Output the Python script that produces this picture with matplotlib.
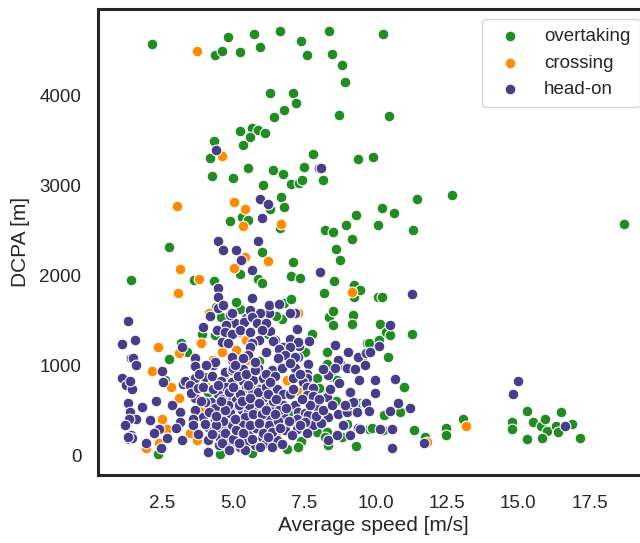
import matplotlib
import numpy as np

matplotlib.use("Agg")
import matplotlib.pyplot as plt

# (average speed [m/s], DCPA [m]) per encounter type
overtaking_points = [
    (2.15, 4570), (4.81, 4648), (4.34, 4448), (4.60, 4492), (5.22, 4481), (5.74, 4685),
    (5.93, 4537), (6.63, 4714), (7.36, 4600), (7.60, 4441), (8.36, 4718), (8.45, 4459),
    (8.82, 4333), (8.90, 4148), (6.30, 4026), (7.10, 4022), (7.20, 3911), (6.78, 3837),
    (6.42, 3755), (8.71, 3777), (5.24, 3603), (5.67, 3636), (5.86, 3618), (6.12, 3581),
    (5.60, 3533), (5.34, 3441), (4.32, 3496), (4.18, 3303), (4.25, 3103), (4.98, 3081),
    (5.50, 3192), (6.39, 3166), (6.73, 3119), (7.01, 3018), (7.29, 3022), (7.42, 3059),
    (7.49, 3203), (7.79, 3341), (8.13, 3052), (6.04, 3000), (6.66, 2874), (6.77, 2755),
    (6.29, 2733), (5.29, 2641), (5.53, 2611), (4.90, 2600), (6.64, 2522), (8.22, 2503),
    (8.51, 2481), (8.96, 2555), (9.30, 2674), (9.15, 2403), (9.39, 3296), (9.91, 3318),
    (2.76, 2308), (8.59, 2296),
    (10.26, 4681), (10.46, 3766), (11.46, 2841), (12.67, 2889), (10.20, 2744), (10.63, 2696),
    (10.06, 2555), (11.32, 2500), (18.70, 2563),
    (1.40, 1941), (6.01, 2252), (7.09, 2144), (8.73, 2174), (5.23, 2008), (5.85, 1952),
    (6.01, 1914), (7.04, 1989), (7.33, 1970), (4.33, 1930), (3.61, 1941), (8.53, 1933),
    (8.19, 1800), (9.22, 1889), (9.24, 1752), (6.78, 1692), (7.02, 1730), (8.36, 1537),
    (8.50, 1600), (9.20, 1559), (9.16, 1452), (8.49, 1441), (6.69, 1515), (2.76, 1070),
    (2.60, 830), (3.18, 1248), (7.75, 1341), (8.27, 1148), (8.28, 981), (8.47, 863),
    (7.92, 852), (9.69, 1241), (9.44, 574), (7.95, 259), (8.27, 252), (8.33, 111),
    (9.29, 103), (5.66, 25), (4.52, 15), (2.35, 10), (7.36, 152), (7.27, 92), (6.90, 70),
    (4.55, 1530), (3.38, 1148), (4.35, 1333), (5.23, 1619), (8.27, 1018), (8.77, 1000),
    (3.50, 833), (8.21, 204), (8.27, 685), (8.62, 833), (7.04, 833), (9.77, 296),
    (6.75, 370), (6.96, 370),
    (9.44, 1833), (10.08, 1752), (10.23, 1752), (10.16, 1456), (10.37, 1370), (10.51, 1333),
    (11.27, 1348), (9.77, 1241), (10.12, 1278), (10.41, 1092), (9.50, 1074), (10.98, 759),
    (10.29, 444), (10.84, 481), (9.85, 304), (10.26, 278), (11.34, 274), (11.72, 204),
    (12.46, 304), (12.46, 222), (13.06, 407), (14.78, 370), (14.78, 296), (15.29, 485),
    (15.29, 174), (15.51, 370), (15.81, 322), (15.95, 404), (15.99, 270), (15.82, 189),
    (16.33, 322), (16.40, 259), (16.49, 478), (16.89, 341), (17.15, 189),
    (4.40, 1650), (5.10, 1700), (6.20, 1350), (6.90, 1100), (5.90, 1050), (4.10, 700),
    (6.10, 300), (5.30, 250), (7.00, 450), (7.60, 600), (4.70, 900), (3.90, 1350),
    (6.50, 1550), (7.50, 1150), (8.00, 750), (8.60, 600), (9.00, 350), (8.80, 200),
]

crossing_points = [
    (3.71, 4492), (4.59, 3322), (3.03, 2763), (5.01, 2811), (5.42, 2730), (5.33, 2544),
    (6.67, 2566), (3.12, 2063), (3.06, 1807), (5.02, 2085), (6.20, 2152), (5.40, 2203),
    (3.78, 1955), (9.18, 1815), (2.35, 1203), (3.86, 1241), (2.15, 933), (2.82, 755),
    (3.10, 630), (2.49, 400), (2.40, 130), (1.95, 74), (7.63, 1000), (4.15, 1585),
    (4.59, 1148), (4.29, 1055), (3.11, 1137), (7.27, 1574), (5.23, 1370), (5.11, 1167),
    (6.16, 1481), (5.52, 1055), (2.66, 289), (4.00, 585), (3.71, 167), (5.29, 833),
    (6.84, 822), (6.40, 648), (6.30, 426), (6.52, 481), (7.33, 704), (6.52, 259),
    (13.15, 326), (11.78, 141), (5.46, 1278), (4.06, 759), (3.94, 500), (3.47, 241),
    (6.46, 685), (6.87, 833), (7.57, 704), (4.50, 450), (5.00, 300), (5.80, 200),
    (4.80, 650), (5.60, 900), (6.10, 1150),
]

head_on_points = [
    (4.40, 3392), (7.99, 3192), (8.09, 3192), (5.94, 2848), (6.23, 2796), (6.02, 2630),
    (4.47, 2385), (5.85, 2385), (4.64, 2278), (5.09, 2278), (5.26, 2174), (5.66, 2055),
    (8.05, 2033),
    (1.32, 1492), (1.09, 1230), (1.54, 1285), (1.40, 1085), (1.48, 1081), (1.59, 1007),
    (1.09, 855), (1.23, 778), (1.44, 733), (1.37, 822), (1.30, 574), (1.36, 481),
    (1.78, 537), (1.25, 333), (1.40, 222), (1.33, 178), (1.43, 192), (1.31, 204),
    (1.60, 407), (1.33, 407), (1.19, 333), (2.08, 378), (1.93, 130), (2.49, 74),
    (2.70, 196), (2.40, 296), (3.12, 474), (3.12, 370), (3.20, 167), (4.12, 30),
    (2.51, 933), (3.24, 796), (3.65, 1081), (3.65, 989), (3.20, 1203), (4.46, 1859),
    (4.46, 1752), (4.46, 1630), (4.64, 1667), (4.18, 1544), (3.95, 1419), (4.41, 1396),
    (4.94, 1567), (5.05, 1463), (4.70, 1433), (5.46, 1519), (5.62, 1544), (5.95, 1492),
    (6.26, 1574), (6.25, 1667), (6.60, 1674), (6.28, 1381), (6.46, 1278), (6.77, 1196),
    (6.99, 1292), (7.30, 1211), (7.65, 1267), (7.16, 1585), (7.25, 1407),
    (4.88, 1559), (4.73, 1444), (4.43, 1389), (4.70, 1370), (4.94, 1344), (4.61, 1259),
    (4.80, 1241), (4.29, 1000), (4.35, 1037), (4.70, 926), (4.94, 944), (4.94, 1055),
    (3.30, 826), (3.65, 859), (4.00, 863),
    (5.66, 1741), (4.96, 1574), (5.58, 1611), (5.93, 1574), (6.98, 1574), (5.37, 1474),
    (5.64, 1537), (5.84, 1470), (6.14, 1463), (5.23, 1389), (5.58, 1370), (5.99, 1389),
    (5.91, 1285), (5.64, 1241), (5.58, 1203), (6.40, 1270), (6.75, 1203), (6.98, 1296),
    (7.27, 1259), (4.94, 1092), (5.52, 1111), (6.16, 1148), (6.60, 1185), (6.98, 1203),
    (7.27, 1092), (7.62, 1018), (6.81, 1111), (7.16, 1092), (4.99, 963), (5.34, 952),
    (5.87, 963), (6.34, 944), (6.69, 963), (7.16, 963), (7.59, 900), (8.33, 889),
    (8.56, 1222), (9.03, 1148), (9.38, 1092), (9.67, 1130), (8.68, 1055), (8.97, 963),
    (8.15, 952), (8.56, 963), (9.26, 952), (9.61, 1000),
    (2.07, 389), (2.69, 192), (2.48, 81), (2.54, 815), (3.47, 778), (3.67, 630),
    (3.65, 500), (3.94, 426), (3.59, 407), (3.59, 333), (3.76, 230), (4.12, 315),
    (4.35, 407), (4.41, 278), (4.12, 167), (4.49, 111), (4.23, 593), (4.47, 685),
    (4.64, 556), (4.88, 611), (4.53, 463), (4.82, 444), (4.94, 333), (4.59, 296),
    (4.76, 204), (4.94, 111), (4.53, 185), (3.53, 696), (4.00, 593), (3.76, 741),
    (3.94, 759),
    (4.94, 815), (5.34, 822), (5.69, 833), (6.05, 852), (5.05, 722), (5.46, 741),
    (5.64, 722), (5.93, 733), (6.34, 844), (6.52, 733), (7.10, 852), (7.57, 852),
    (7.45, 808), (5.11, 611), (5.46, 630), (5.81, 622), (6.05, 637), (6.75, 685),
    (6.98, 685), (7.57, 759), (7.80, 741), (7.57, 667), (7.80, 659), (4.94, 519),
    (5.29, 500), (5.52, 481), (5.81, 519), (6.05, 537), (6.28, 548), (6.75, 556),
    (7.16, 556), (7.27, 481), (7.51, 463), (7.98, 519), (8.27, 648), (8.33, 426),
    (8.68, 452), (8.97, 474), (9.03, 556), (9.20, 593), (9.61, 574), (5.11, 407),
    (5.52, 370), (5.93, 407), (6.28, 426), (6.75, 444), (7.22, 407), (7.62, 444),
    (7.80, 333), (8.09, 352), (5.17, 222), (5.58, 241), (5.99, 204), (6.40, 185),
    (6.81, 278), (7.22, 289), (7.51, 370), (5.23, 93), (5.75, 111), (6.16, 130),
    (6.52, 167), (6.34, 93), (8.33, 167), (8.62, 222), (8.91, 556), (9.38, 304),
    (9.33, 481),
    (11.26, 1789), (10.50, 1448), (10.12, 1211), (9.79, 1144), (9.98, 833), (10.67, 841),
    (9.98, 696), (9.64, 574), (9.77, 493), (10.48, 493), (10.76, 574), (11.19, 522),
    (10.14, 293), (10.56, 293), (9.44, 293), (10.56, 78), (11.69, 130), (14.98, 826),
    (14.81, 678), (16.63, 322),
    (4.25, 880), (4.55, 820), (4.75, 760), (5.15, 880), (5.45, 900), (5.75, 950),
    (6.15, 900), (6.45, 880), (4.30, 740), (4.60, 620), (4.85, 700), (5.25, 680),
    (5.55, 560), (5.85, 700), (6.15, 760), (6.40, 600), (6.60, 500), (4.35, 520),
    (4.65, 380), (4.90, 470), (5.20, 560), (5.40, 420), (5.70, 460), (6.00, 460),
    (6.25, 330), (6.55, 380), (6.85, 520), (4.40, 340), (4.70, 250), (5.00, 180),
    (5.30, 330), (5.45, 150), (5.80, 300), (6.05, 250), (6.35, 260), (6.65, 300),
    (6.95, 380), (4.25, 230), (4.60, 140), (4.85, 60), (5.10, 280), (5.40, 60),
    (5.65, 180), (5.95, 90), (6.20, 200), (6.70, 120), (7.05, 220), (4.15, 480),
    (4.00, 350), (3.85, 600), (3.80, 900), (4.05, 1000), (5.05, 1000), (5.35, 1080),
    (5.75, 1040), (6.55, 1080), (7.00, 1020), (7.35, 900), (7.70, 560), (8.00, 620),
    (7.40, 620), (7.10, 730), (7.90, 430), (8.15, 500), (8.45, 560), (8.40, 730),
    (8.70, 800), (9.10, 700), (9.40, 830), (8.85, 330), (9.10, 220), (7.60, 250),
    (7.35, 330),
    (4.45, 780), (4.80, 560), (5.00, 760), (5.30, 600), (5.60, 640), (5.90, 580),
    (6.20, 680), (6.50, 620), (4.40, 430), (4.70, 500), (5.05, 400), (5.35, 250),
    (5.60, 330), (5.90, 360), (6.15, 500), (6.45, 460), (4.55, 600), (5.20, 130),
    (5.50, 780), (6.30, 810), (2.20, 250), (2.85, 560), (3.00, 300), (2.30, 600),
]

encounter_types = ["overtaking", "crossing", "head-on"]
encounter_colors = ["forestgreen", "darkorange", "darkslateblue"]

plt.rcParams["font.family"] = ["Liberation Sans", "DejaVu Sans"]
text_color = "#262626"

fig = plt.figure(figsize=(6.4, 5.43), dpi=100)
ax = fig.add_axes([0.153, 0.125, 0.861, 0.858])

for label, color, points in zip(
    encounter_types, encounter_colors, [overtaking_points, crossing_points, head_on_points]
):
    data = np.array(points, dtype=float)
    ax.scatter(
        data[:, 0], data[:, 1],
        s=60, c=color, edgecolors="white", linewidths=0.8, label=label, zorder=3,
    )

ax.set_xlim(0.25, 19.58)
ax.set_ylim(-222, 4955)
ax.set_xticks([2.5, 5.0, 7.5, 10.0, 12.5, 15.0, 17.5])
ax.set_yticks([0, 1000, 2000, 3000, 4000])
ax.tick_params(axis="x", length=0, labelsize=13.5, colors=text_color, pad=14)
ax.tick_params(axis="y", length=0, labelsize=13.5, colors=text_color, pad=12)
ax.set_xlabel("Average speed [m/s]", fontsize=15, color=text_color, labelpad=3)
ax.set_ylabel("DCPA [m]", fontsize=15, color=text_color, labelpad=7)
for spine in ax.spines.values():
    spine.set_color(text_color)
    spine.set_linewidth(2.2)

leg = ax.legend(loc="upper right", fontsize=13.5, frameon=True, fancybox=True,
                handletextpad=0.8, borderpad=0.5)
leg.get_frame().set_edgecolor("#cccccc")
for text in leg.get_texts():
    text.set_color(text_color)

fig.savefig("out.png", dpi=100)
